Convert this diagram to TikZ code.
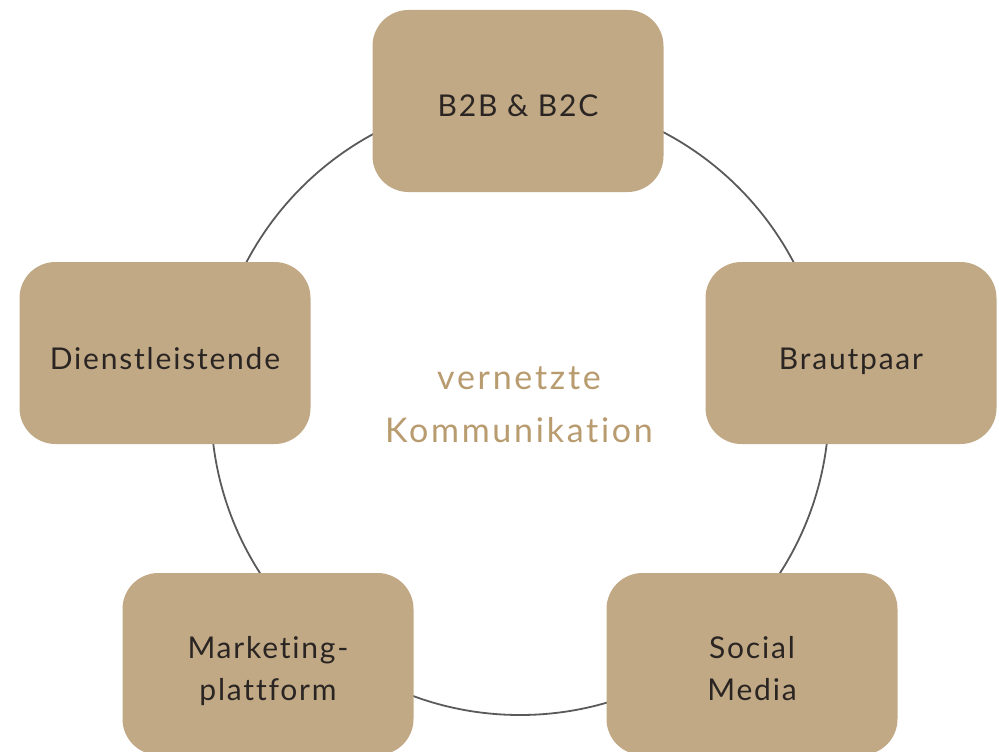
\documentclass[tikz,border=0pt]{standalone}
\usepackage{fontspec}
\setmainfont{Lato}[LetterSpace=6, Ligatures=NoCommon]
\newfontfamily\widefont{Lato}[LetterSpace=8, Ligatures=NoCommon]
\usepackage{tikz}

\definecolor{sand}{HTML}{C1A986}
\definecolor{sandtext}{HTML}{B89B6E}
\definecolor{ink}{HTML}{2A2522}
\definecolor{ring}{HTML}{5A5A5A}

\begin{document}
\begin{tikzpicture}[x=1pt, y=-1pt,
  tile/.style={fill=sand, rounded corners=36pt, minimum width=291pt, minimum height=182pt,
    align=center, text=ink, font=\fontsize{30}{42}\selectfont, text height=32pt, text depth=0pt},
  twoline/.style={tile, text height=78pt, text depth=6pt},
  ringline/.style={draw=ring, line width=1.8pt}]
\useasboundingbox (0,0) rectangle (999,752);
%\draw[very thin,color=gray] (0,0) grid[step=50] (999,752);
\draw[ringline] (520,406) circle (309pt);

\node[tile] (b2b) at (518,101) {B2B \& B2C};
\node[tile] (dienst) at (165,353) {Dienstleistende};
\node[tile] (braut) at (851,353) {Brautpaar};
\node[twoline] (marketing) at (268,664) {Marketing-\\plattform};
\node[twoline] (social) at (752,664) {Social\\Media};

\node[text=sandtext, align=center, font=\widefont\fontsize{34}{53}\selectfont] (center) at (519,405) {vernetzte\\Kommunikation};
\end{tikzpicture}
\end{document}
